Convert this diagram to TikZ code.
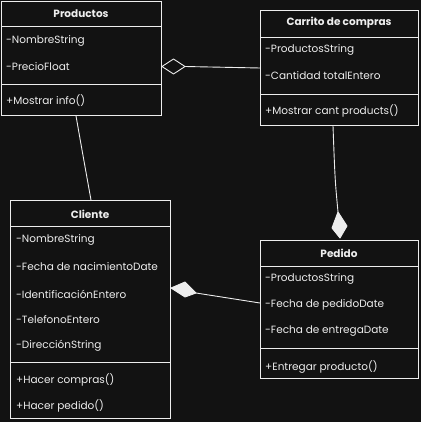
\documentclass[tikz,border=0pt]{standalone}
\usepackage{fontspec}
\setmainfont{Poppins}
\definecolor{bg}{HTML}{121212}
\definecolor{ink}{HTML}{EDEDED}
\begin{document}
\begin{tikzpicture}[x=1pt,y=-1pt,
  box/.style={draw=ink, line width=0.9pt, fill=bg, inner sep=0pt, anchor=north west},
  attr/.style={anchor=west, text=ink, font=\fontsize{10.5}{11}\selectfont, inner sep=0pt},
  ttl/.style={text=ink, font=\bfseries\fontsize{10.5}{11}\selectfont, inner sep=0pt},
  sep/.style={draw=ink, line width=0.9pt},
  link/.style={draw=ink, line width=0.9pt},
  odia/.style={draw=ink, line width=0.9pt, fill=bg, line join=round},
  fdia/.style={draw=ink, line width=0.9pt, fill=ink, line join=round}]
\fill[bg] (0,0) rectangle (421,422);
\useasboundingbox (0,0) rectangle (421,422);

% Productos
\node[box, minimum width=160pt, minimum height=114pt] (prod) at (1,1) {};
\draw[sep] (1,26) -- (161,26);
\draw[sep] (1,84) -- (161,84);
\node[ttl] (prodT) at (81,14) {Productos};
\node[attr] (prodA1) at (6,41) {-NombreString};
\node[attr] (prodA2) at (6,67) {-PrecioFloat};
\node[attr] (prodM1) at (6,101) {+Mostrar info()};

% Carrito de compras
\node[box, minimum width=158pt, minimum height=115pt] (cart) at (260,10) {};
\draw[sep] (260,37) -- (418,37);
\draw[sep] (260,94) -- (418,94);
\node[ttl] (cartT) at (339,23) {Carrito de compras};
\node[attr] (cartA1) at (265,50) {-ProductosString};
\node[attr] (cartA2) at (265,76) {-Cantidad totalEntero};
\node[attr] (cartM1) at (265,111) {+Mostrar cant products()};

% Cliente
\node[box, minimum width=160pt, minimum height=218pt] (cli) at (10,200) {};
\draw[sep] (10,226) -- (170,226);
\draw[sep] (10,362) -- (170,362);
\node[ttl] (cliT) at (90,214) {Cliente};
\node[attr] (cliA1) at (16,240) {-NombreString};
\node[attr] (cliA2) at (16,267) {-Fecha de nacimientoDate};
\node[attr] (cliA3) at (16,294) {-IdentificaciónEntero};
\node[attr] (cliA4) at (16,320) {-TelefonoEntero};
\node[attr] (cliA5) at (16,346) {-DirecciónString};
\node[attr] (cliM1) at (16,380) {+Hacer compras()};
\node[attr] (cliM2) at (16,406) {+Hacer pedido()};

% Pedido
\node[box, minimum width=158pt, minimum height=138pt] (ped) at (260,240) {};
\draw[sep] (260,266) -- (418,266);
\draw[sep] (260,348) -- (418,348);
\node[ttl] (pedT) at (339,253) {Pedido};
\node[attr] (pedA1) at (265,279) {-ProductosString};
\node[attr] (pedA2) at (265,305) {-Fecha de pedidoDate};
\node[attr] (pedA3) at (265,331) {-Fecha de entregaDate};
\node[attr] (pedM1) at (265,367) {+Entregar producto()};

% Productos <>-- Carrito (aggregation)
\coordinate (d1a) at (162,66.5);
\coordinate (d1b) at (185,66.5);
\draw[link] (d1b) -- (cart.west |- 0,68);
\draw[odia] (d1a) -- (173.5,59) -- (d1b) -- (173.5,74) -- cycle;

% Productos -- Cliente
\draw[link] (prod.south -| 76,0) .. controls (82,150) .. (cli.north -| 91,0);

% Carrito --<> Pedido (composition)
\coordinate (d2a) at (338,212);
\coordinate (d2b) at (340,238);
\draw[link] (cart.south -| 333,0) .. controls (335,180) .. (d2a);
\draw[fdia] (d2a) -- (347,226) -- (d2b) -- (332,228) -- cycle;

% Pedido --<> Cliente (composition)
\coordinate (d3a) at (171,288);
\coordinate (d3b) at (196,293);
\draw[link] (d3b) -- (ped.west |- 0,303);
\draw[fdia] (d3a) -- (185,282) -- (d3b) -- (185,297) -- cycle;
\end{tikzpicture}
\end{document}
